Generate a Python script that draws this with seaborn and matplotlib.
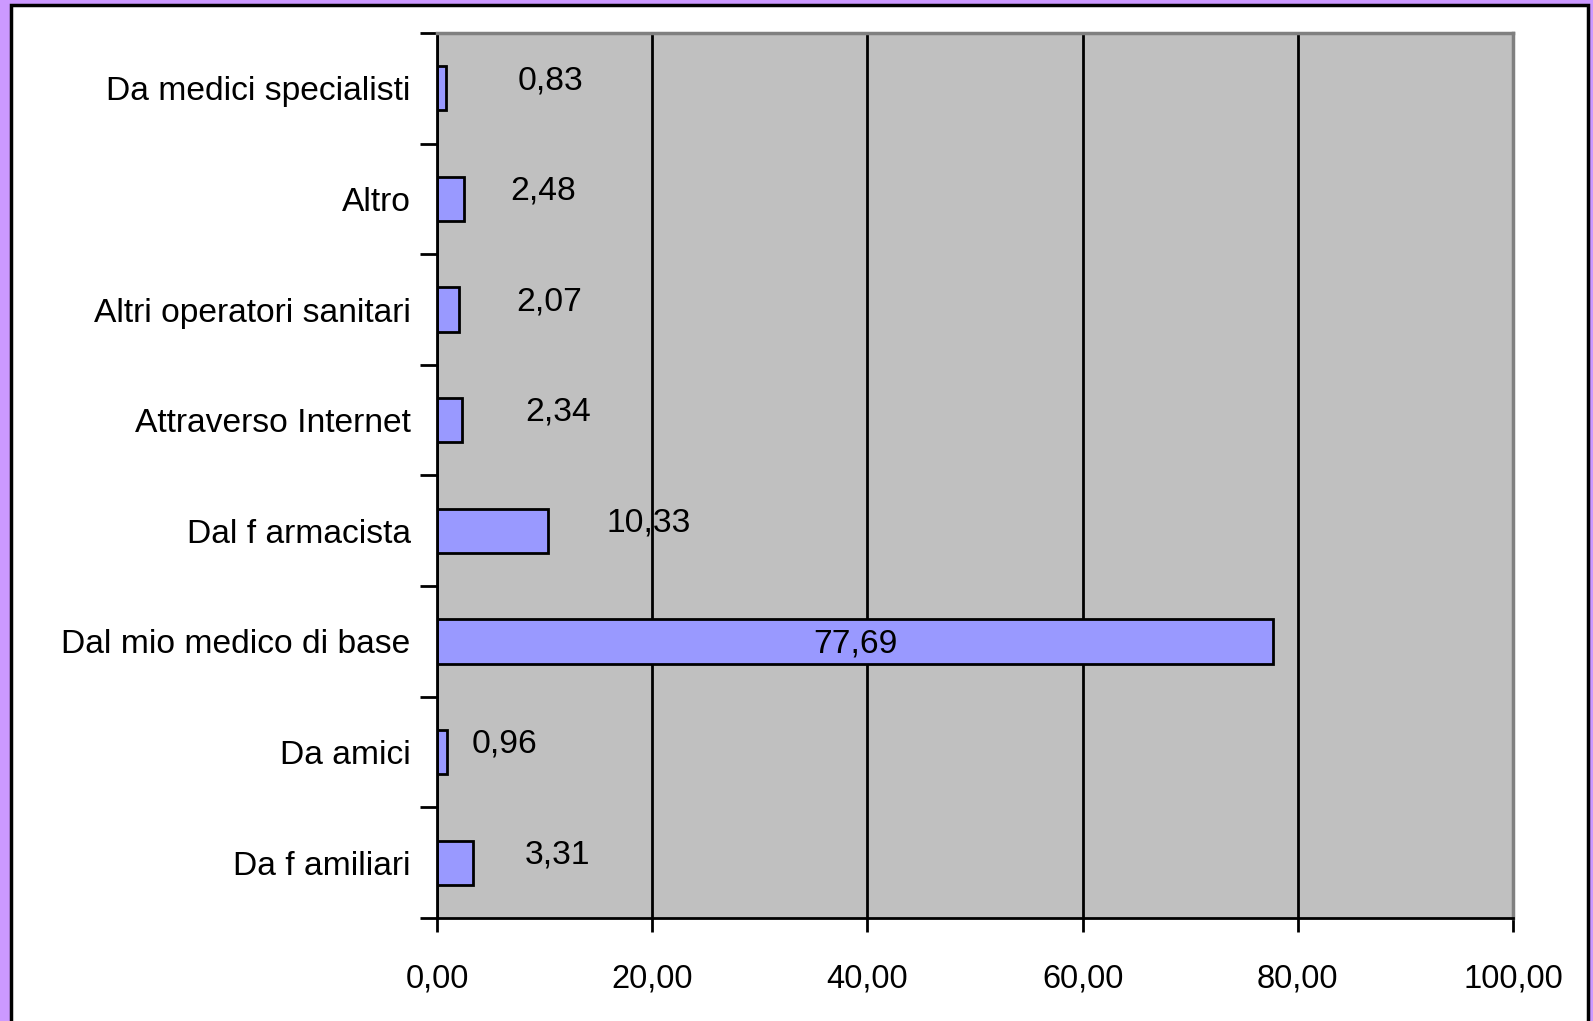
import matplotlib
matplotlib.use("Agg")
import matplotlib.pyplot as plt
import seaborn as sns
from matplotlib.patches import Rectangle
from matplotlib.ticker import FixedLocator, FuncFormatter

# categories top to bottom as in the chart
categories = ["Da medici specialisti", "Altro", "Altri operatori sanitari",
              "Attraverso Internet", "Dal f armacista", "Dal mio medico di base",
              "Da amici", "Da f amiliari"]
values = [0.83, 2.48, 2.07, 2.34, 10.33, 77.69, 0.96, 3.31]
x_ticks = [0, 20, 40, 60, 80, 100]

# horizontal nudge of each value label (data units, from the bar end)
label_dx = [9.7, 7.4, 8.4, 8.9, 9.3, 0, 5.3, 7.9]

sns.set_style("white")
plt.rcParams['font.family'] = ['Liberation Sans', 'DejaVu Sans']
fs = 24.2

fig = plt.figure(figsize=(15.93, 10.21), dpi=100, facecolor="#CC99FF")
fig.patches.append(Rectangle((11 / 1593, -0.1), 1577 / 1593, 1.1 - 5 / 1021,
                             transform=fig.transFigure, facecolor="white",
                             edgecolor="black", linewidth=2.5, zorder=-5))

ax = fig.add_axes([437 / 1593, 1 - 918 / 1021, (1513 - 437) / 1593, (918 - 33) / 1021])
ax.set_facecolor("#C0C0C0")

sns.barplot(x=values, y=categories, orient="h", color="#9999FF", saturation=1,
            edgecolor="black", linewidth=2, width=0.4, ax=ax)

ax.set_xlim(0, 100)
ax.set_ylim(7.5, -0.5)
ax.set_axisbelow(True)
ax.xaxis.set_major_locator(FixedLocator(x_ticks))
ax.xaxis.set_major_formatter(FuncFormatter(lambda v, p: f"{v:.2f}".replace(".", ",")))
ax.grid(axis="x", color="black", linewidth=2)
ax.grid(axis="y", visible=False)

ax.set_yticks(range(len(categories)))
ax.set_yticklabels(categories, fontsize=fs)
ax.set_yticks([i - 0.5 for i in range(len(categories) + 1)], minor=True)
ax.tick_params(axis="y", which="major", length=0, pad=19, labelcolor="black")
ax.tick_params(axis="y", which="minor", length=12, width=2, color="black", direction="out", left=True)
ax.tick_params(axis="x", which="major", length=10, width=2, color="black", direction="out",
               bottom=True, labelsize=23.5, labelcolor="black", pad=22.5)

for side in ["left", "bottom"]:
    ax.spines[side].set_color("black")
    ax.spines[side].set_linewidth(2)
for side in ["top", "right"]:
    ax.spines[side].set_visible(True)
    ax.spines[side].set_color("#808080")
    ax.spines[side].set_linewidth(2.5)

for i, (v, dx) in enumerate(zip(values, label_dx)):
    txt = f"{v:.2f}".replace(".", ",")
    if dx == 0:
        ax.text(v / 2, i + 0.02, txt, ha="center", va="center", fontsize=fs, color="black")
    else:
        ax.text(v + dx, i - 0.07, txt, ha="center", va="center", fontsize=fs, color="black")

ax.set_xlabel("")
ax.set_ylabel("")
fig.savefig("out.png", dpi=100, facecolor=fig.get_facecolor())
